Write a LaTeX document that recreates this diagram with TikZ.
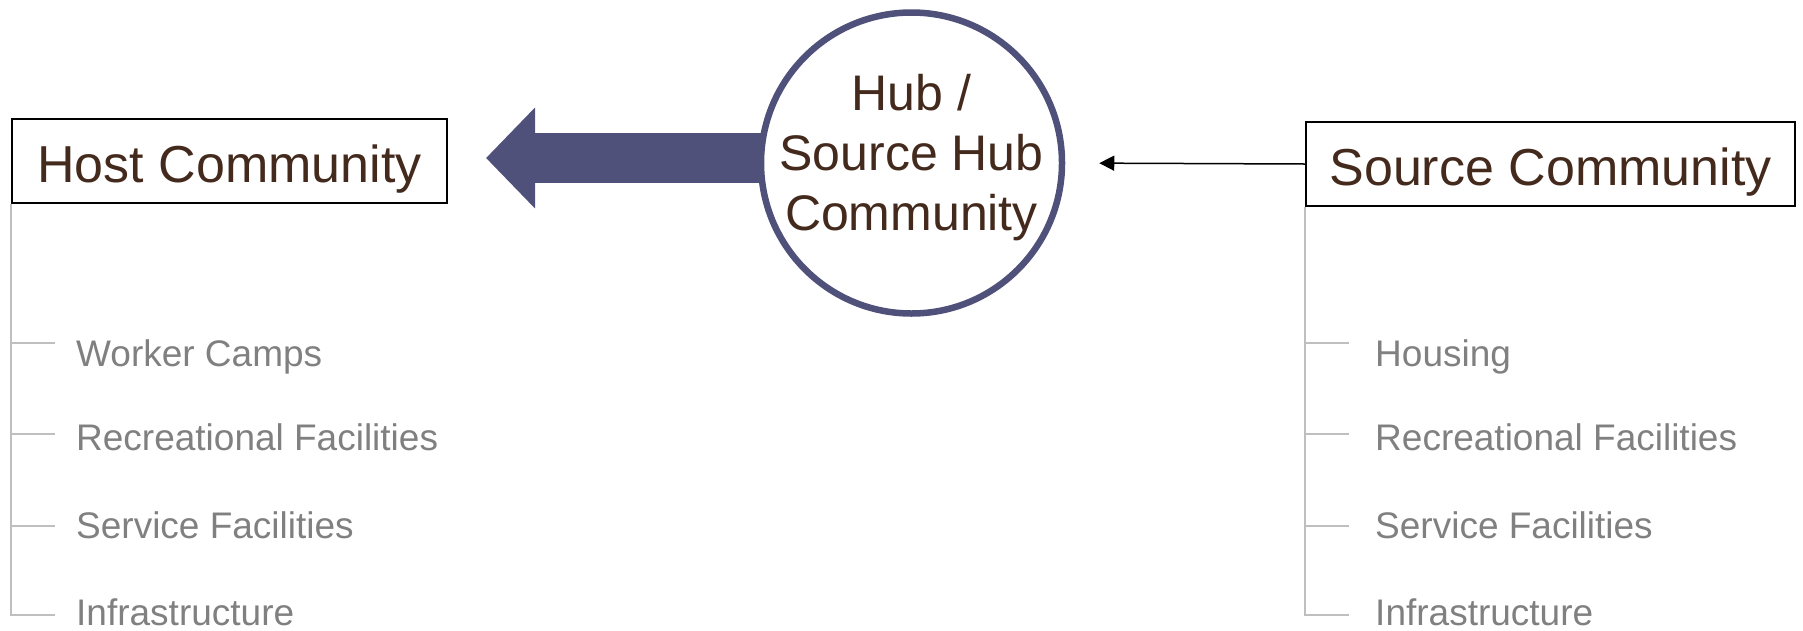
\documentclass[tikz,border=0pt]{standalone}
\usepackage{fontspec}
\setmainfont{Liberation Sans}
\usetikzlibrary{arrows.meta,backgrounds}

\definecolor{commtext}{RGB}{67,42,29}
\definecolor{hubblue}{RGB}{79,81,122}
\definecolor{itemgray}{RGB}{128,128,128}
\definecolor{treegray}{RGB}{191,191,191}

\begin{document}
\begin{tikzpicture}[x=1pt,y=-1pt,>={Triangle[length=15pt,width=15pt]},
                    node distance=682pt,
                    commbox/.style={draw,line width=2pt,minimum width=435pt,
                      minimum height=84pt,inner sep=0pt,text=commtext,
                      font=\fontsize{52}{62}\selectfont,text height=42pt,text depth=0pt},
                    hubnode/.style={circle,draw=hubblue,line width=6.5pt,fill=white,
                      minimum size=301pt,inner sep=-10pt,align=center,text=commtext,
                      font=\fontsize{50}{60}\selectfont,text depth=21pt},
                    item/.style={anchor=base west,inner sep=0pt,text=itemgray,
                      font=\fontsize{37}{44}\selectfont},
                    treeline/.style={draw=treegray,line width=2pt},
                    bigarrow/.style={hubblue,line width=50pt,
                      -{Triangle[length=49pt,width=98pt]},shorten >=38pt},
                    thinarrow/.style={->,line width=1.5pt,shorten >=34pt}]

  \useasboundingbox (0,0) rectangle (1803,630);

  \node[commbox]  (host)                                     at (229.5,161) {Host Community};
  \node[hubnode]  (hub)    [right of=host, yshift=-2pt]                  {Hub /\\Source Hub\\Community};
  \node[commbox,minimum width=489pt] (source) [right of=hub, xshift=-43pt, yshift=-1pt] {Source Community};

  \begin{scope}[on background layer]
    \draw[bigarrow] ([yshift=5pt]hub.center) -- ([yshift=3pt]host.east);
  \end{scope}
  \path (source.west) edge[thinarrow] (hub.east);

  % host side
  \coordinate (h1) at (55,343);
  \coordinate (h2) at (55,434);
  \coordinate (h3) at (55,526);
  \coordinate (h4) at (55,615);
  \node[item] (camps)   at (76,366) {Worker Camps};
  \node[item] (hrec)    at (76,450) {Recreational Facilities};
  \node[item] (hserv)   at (76,538) {Service Facilities};
  \node[item] (hinfra)  at (76,625) {Infrastructure};
  \draw[treeline] (host.south west) |- (h4);
  \draw[treeline] (h1 -| host.south west) -- (h1);
  \draw[treeline] (h2 -| host.south west) -- (h2);
  \draw[treeline] (h3 -| host.south west) -- (h3);

  % source side
  \coordinate (s1) at (1349,343);
  \coordinate (s2) at (1349,434);
  \coordinate (s3) at (1349,526);
  \coordinate (s4) at (1349,615);
  \node[item] (housing) at (1375,366) {Housing};
  \node[item] (srec)    at (1375,450) {Recreational Facilities};
  \node[item] (sserv)   at (1375,538) {Service Facilities};
  \node[item] (sinfra)  at (1375,625) {Infrastructure};
  \draw[treeline] (source.south west) |- (s4);
  \draw[treeline] (s1 -| source.south west) -- (s1);
  \draw[treeline] (s2 -| source.south west) -- (s2);
  \draw[treeline] (s3 -| source.south west) -- (s3);
\end{tikzpicture}
\end{document}
